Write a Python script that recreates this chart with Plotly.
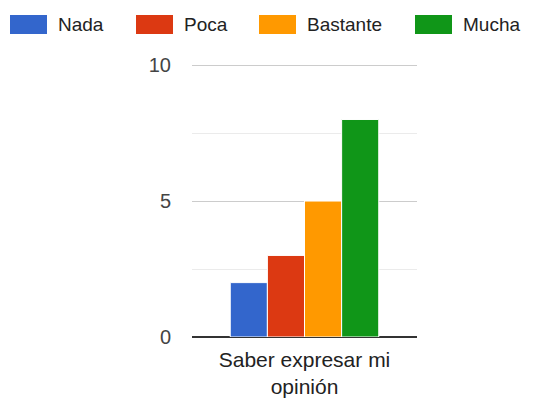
import plotly.graph_objects as go

# Survey responses for one item
categories = ["Saber expresar mi<br>opinión"]
series_names = ["Nada", "Poca", "Bastante", "Mucha"]
series_values = [[2], [3], [5], [8]]
series_colors = ["#3366cc", "#dc3912", "#ff9900", "#109618"]
y_tick_vals = [0, 5, 10]
y_tick_text = ["0", "5", "10"]

FONT = "Liberation Sans, Arial, sans-serif"

# Plot-area geometry in pixels (PLOT_B is the baseline's distance from the top)
PLOT_L, PLOT_W = 192, 225
PLOT_B, PLOT_H = 337, 273

fig = go.Figure()
for name, vals, color in zip(series_names, series_values, series_colors):
    fig.add_trace(go.Bar(
        x=categories, y=vals, name=name,
        marker=dict(color=color, line=dict(color="white", width=1)),
        showlegend=False,
    ))

# Custom legend row across the top: wide colour swatch followed by label
legend_x = [10, 136, 259, 415]
shapes = []
annotations = []
for lx, name, color in zip(legend_x, series_names, series_colors):
    shapes.append(dict(
        type="rect", xref="paper", yref="paper",
        x0=(lx - PLOT_L) / PLOT_W, x1=(lx + 37 - PLOT_L) / PLOT_W,
        y0=(PLOT_B - 34) / PLOT_H, y1=(PLOT_B - 15) / PLOT_H,
        fillcolor=color, line=dict(width=0), layer="above",
    ))
    annotations.append(dict(
        xref="paper", yref="paper",
        x=(lx + 46 - PLOT_L) / PLOT_W, y=(PLOT_B - 24) / PLOT_H,
        xanchor="left", yanchor="middle", showarrow=False,
        text=name, font=dict(family=FONT, size=19, color="#222222"),
    ))

fig.update_layout(
    width=558, height=398,
    margin=dict(l=PLOT_L, r=558 - PLOT_L - PLOT_W, t=PLOT_B - PLOT_H, b=398 - PLOT_B),
    paper_bgcolor="white", plot_bgcolor="white",
    barmode="group", bargap=0.34, bargroupgap=0,
    font=dict(family=FONT, size=18, color="#444444"),
    shapes=shapes, annotations=annotations,
)
fig.update_xaxes(
    automargin=False,
    showgrid=False, showline=False, ticks="", ticklabelstandoff=8,
    tickfont=dict(family=FONT, size=21, color="#222222"),
)
fig.update_yaxes(
    automargin=False,
    range=[0, 10.04], tickvals=y_tick_vals, ticktext=y_tick_text,
    showgrid=True, gridcolor="#cccccc", gridwidth=1,
    minor=dict(dtick=2.5, showgrid=True, gridcolor="#ebebeb", gridwidth=1),
    zeroline=True, zerolinecolor="#333333", zerolinewidth=2,
    showline=False, ticks="", ticklabelstandoff=20,
    tickfont=dict(family=FONT, size=20, color="#444444"),
)

fig.write_html("out.html")
